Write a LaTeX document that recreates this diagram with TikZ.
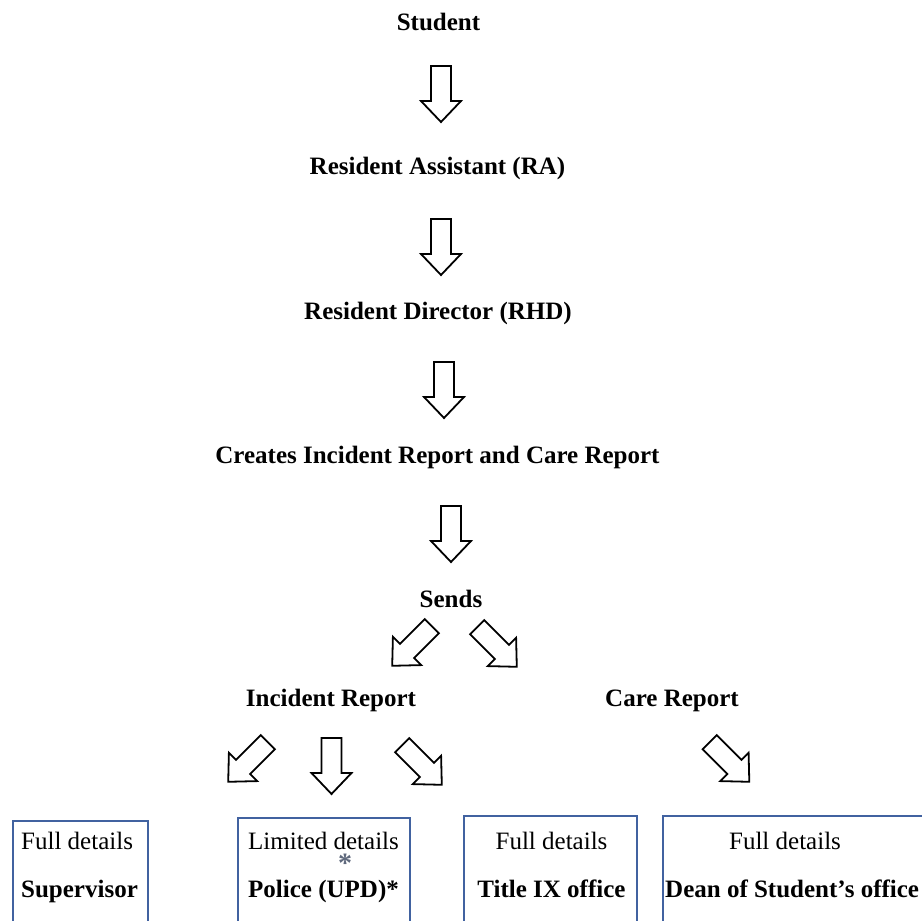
\documentclass[tikz,border=0pt]{standalone}
\usepackage{fontspec}
\setmainfont{Liberation Serif}
\definecolor{boxblue}{RGB}{65,98,160}
\definecolor{stargray}{RGB}{95,105,125}
\tikzset{
  lbl/.style={font=\fontsize{25}{30}\selectfont\bfseries, inner sep=0pt, anchor=base},
  txt/.style={font=\fontsize{25}{30}\selectfont, inner sep=0pt},
  boxframe/.style={draw=boxblue, line width=1.8pt, anchor=north west, inner sep=0pt, minimum height=130pt},
  pics/blockarrow/.style={code={
    \draw[line width=1.8pt, line join=miter, fill=white]
      (-10,-28) -- (10,-28) -- (10,7) -- (20,7) -- (0,28) -- (-20,7) -- (-10,7) -- cycle;
  }}
}
\begin{document}
\begin{tikzpicture}[x=1pt,y=-1pt]
\useasboundingbox (0,0) rectangle (922,921);
\clip (0,0) rectangle (922,921);
\fill[white] (0,0) rectangle (922,921);

% chain labels
\node[lbl] (student) at (438.5,30) {Student};
\node[lbl] (ra) at (437.5,174) {Resident Assistant (RA)};
\node[lbl] (rhd) at (438,319) {Resident Director (RHD)};
\node[lbl] (creates) at (437.5,463) {Creates Incident Report and Care Report};
\node[lbl] (sends) at (451,607) {Sends};
\node[lbl] (incident) at (331,706) {Incident Report};
\node[lbl] (care) at (672,706) {Care Report};

% block arrows
\pic at (441,94) {blockarrow};
\pic at (441,247) {blockarrow};
\pic at (444,390) {blockarrow};
\pic at (451,534) {blockarrow};
\pic[rotate=-45] at (412,646) {blockarrow};
\pic[rotate=45] at (497,647) {blockarrow};
\pic[rotate=-45] at (248,762) {blockarrow};
\pic at (331.5,766) {blockarrow};
\pic[rotate=45] at (422,765) {blockarrow};
\pic[rotate=45] at (729.5,762) {blockarrow};

% boxes
\node[boxframe, minimum width=135pt] (b1) at (12,820) {};
\node[boxframe, minimum width=172pt] (b2) at (237,817) {};
\node[boxframe, minimum width=173pt] (b3) at (463,815) {};
\node[boxframe, minimum width=290pt] (b4) at (662,815) {};

\node[txt, anchor=base west] (b1a) at (21,849) {Full details};
\node[txt, anchor=base west, font=\fontsize{25}{30}\selectfont\bfseries] (b1b) at (21,897) {Supervisor};

\node[txt, anchor=base west] (b2a) at (248,849) {Limited details};
\node[txt, anchor=base, text=stargray, text height=10pt, text depth=0pt, font=\fontsize{28}{30}\selectfont\bfseries] (b2s) at (345,872) {*};
\node[txt, anchor=base west, font=\fontsize{25}{30}\selectfont\bfseries] (b2b) at (248,897) {Police (UPD)*};

\node[txt, anchor=base] (b3a) at (551.5,849) {Full details};
\node[txt, anchor=base, font=\fontsize{25}{30}\selectfont\bfseries] (b3b) at (551.5,897) {Title IX office};

\node[txt, anchor=base] (b4a) at (785,849) {Full details};
\node[txt, anchor=base west, font=\fontsize{25}{30}\selectfont\bfseries] (b4b) at (665,897) {Dean of Student’s office};
\end{tikzpicture}
\end{document}
